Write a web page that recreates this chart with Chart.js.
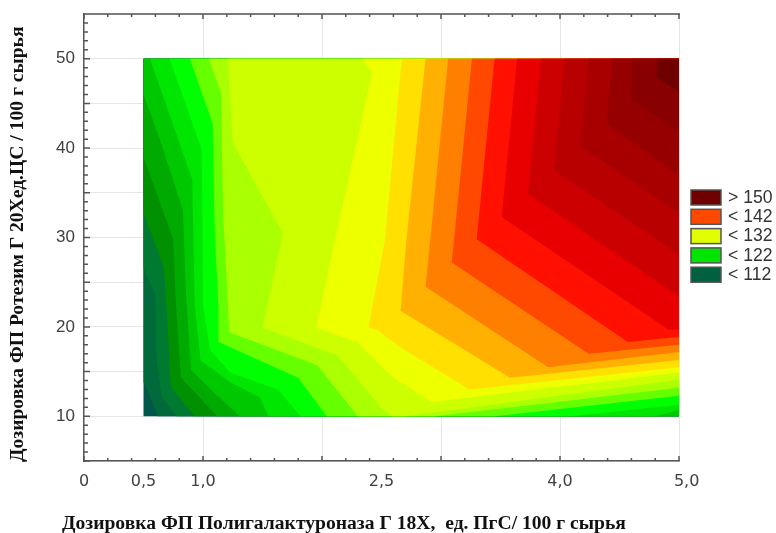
<!DOCTYPE html>
<html>
<head>
<meta charset="utf-8">
<style>
  html, body { margin: 0; padding: 0; background: #fff; }
  canvas { display: block; }
</style>
</head>
<body>
<canvas id="contourChart" width="776" height="533"></canvas>
<script src="https://cdn.jsdelivr.net/npm/chart.js@4/dist/chart.umd.min.js"></script>
<script>
// --------------------------------------------------- DATA
const xTicks = [0, 0.5, 1, 2, 2.5, 3, 4, 5]
const xTickLabels = ['0', '0,5', '1,0', '', '2,5', '', '4,0', '   5,0']
const xGridLines = [1, 2, 3, 4, 5]
const yTickLabels = [10, 20, 30, 40, 50]

const xTitle = 'Дозировка ФП Полигалактуроназа Г 18Х,  ед. ПгС/ 100 г сырья'
const yTitle = 'Дозировка ФП Ротезим Г 20Хед.ЦС / 100 г сырья'

const legendLabels = ['> 150', '< 142', '< 132', '< 122', '< 112']
const legendColors = ['#700000', '#ff4800', '#e0ff00', '#00e600', '#006040']

// band colours, lowest band first
const bandColors = [
  '#00584a', '#006a3a', '#007a30', '#009000', '#00aa00', '#00c800', '#00e600', '#00ff00',
  '#66ff00', '#aaff00', '#ccff00', '#eeff00', '#ffe000', '#ffb000', '#ff8000', '#ff4800',
  '#ff1000', '#e80000', '#cc0000', '#b80000', '#a80000', '#960000', '#880000', '#700000'
]

// contour regions: [dose x, dose y], everything above each level
const base = [[0.5, 50], [0.5, 10], [5, 10], [5, 50]]
const level0 = [[0.5, 50], [0.5, 13.8], [0.56, 12.2], [0.62, 10], [5, 10], [5, 50]]
const level1 = [[0.5, 50], [0.5, 26.6], [0.6, 23.6], [0.61, 16.3], [0.655, 12.1], [0.78, 10], [5, 10], [5, 50]]
const level2 = [[0.5, 50], [0.5, 32.8], [0.67, 26.7], [0.69, 23], [0.73, 13.3], [0.93, 10], [5, 10], [5, 50]]
const level3 = [[0.5, 50], [0.5, 39], [0.75, 29.8], [0.77, 23], [0.815, 14.3], [1.12, 10], [5, 10], [5, 50]]
const level4 = [[0.5, 50], [0.5, 46], [0.64, 40.9], [0.83, 33.1], [0.86, 23], [0.9, 15.2], [1.08, 12.8], [1.31, 10], [5, 10], [5, 50]]
const level5 = [[0.555, 50], [0.91, 36.5], [0.93, 22.5], [0.98, 16.2], [1.23, 13.8], [1.48, 12.1], [1.55, 10], [4.8, 10], [5, 10.7], [5, 50]]
const level6 = [[0.72, 50], [0.99, 39.8], [1, 22.5], [1.06, 17.4], [1.23, 14.9], [1.63, 13], [1.82, 10], [4.08, 10], [5, 11.3], [5, 50]]
const level7 = [[0.89, 50], [1.08, 42.8], [1.1, 29.8], [1.13, 22.5], [1.13, 18.3], [1.8, 14.3], [2.04, 10], [3.45, 10], [5, 12.3], [5, 50]]
const level8 = [[1.05, 50], [1.15, 46.2], [1.17, 32.3], [1.21, 22.5], [1.22, 19.4], [1.96, 15.7], [2.3, 10], [2.95, 10], [5, 13.2], [5, 50]]
const level9 = [[1.21, 50], [1.25, 40.6], [1.67, 30.5], [1.5, 19.9], [2.13, 16.8], [2.5, 10.9], [2.59, 10], [2.7, 10], [5, 14.1], [5, 50]]
const level10 = [[2.34, 50], [2.42, 48.4], [2.11, 29.8], [1.95, 19.9], [2.29, 18.3], [2.6, 14.3], [2.92, 11.6], [5, 14.9], [5, 50]]
const level11 = [[2.67, 50], [2.53, 29.8], [2.39, 19.9], [2.46, 19.7], [2.66, 17.7], [3.24, 13], [5, 15.5], [5, 50]]
const level12 = [[2.87, 50], [2.71, 29.8], [2.66, 21.8], [3.58, 14.3], [5, 16.3], [5, 50]]
const level13 = [[3.06, 50], [2.91, 29.8], [2.87, 24.5], [3.9, 15.5], [5, 17.2], [5, 50]]
const level14 = [[3.26, 50], [3.11, 29.8], [3.09, 27.2], [4.24, 17], [5, 18], [5, 50]]
const level15 = [[3.45, 50], [3.3, 29.8], [4.57, 18.3], [5, 18.9], [5, 50]]
const level16 = [[3.64, 50], [3.51, 32.3], [4.91, 19.7], [5, 19.7], [5, 50]]
const level17 = [[3.84, 50], [3.73, 34.9], [5, 23.4], [5, 50]]
const level18 = [[4.04, 50], [3.95, 37.5], [5, 28.1], [5, 50]]
const level19 = [[4.24, 50], [4.17, 40.2], [5, 32.7], [5, 50]]
const level20 = [[4.44, 50], [4.39, 42.7], [5, 37], [5, 50]]
const level21 = [[4.61, 50], [4.6, 45.4], [5, 41.8], [5, 50]]
const level22 = [[4.82, 50], [4.81, 47.9], [5, 46.3], [5, 50]]

const regions = [base, level0, level1, level2, level3, level4, level5, level6, level7, level8, level9, level10,
  level11, level12, level13, level14, level15, level16, level17, level18, level19, level20, level21, level22]

// --------------------------------------------------- PLUGINS
const frameColor = '#555555'

// inward tick marks and the top edge of the frame
const frameTicks = {
  id: 'frameTicks',
  afterDraw(chart) {
    const { ctx, chartArea, scales } = chart
    ctx.save()
    ctx.strokeStyle = frameColor
    ctx.lineWidth = 1.5
    ctx.beginPath()
    ctx.moveTo(chartArea.left, chartArea.top)
    ctx.lineTo(chartArea.right + 1, chartArea.top)
    for (let i = 0; i <= 25; i++) {
      const px = scales.x.getPixelForValue(i * 0.2)
      const len = i % 5 === 0 ? 5 : 3
      ctx.moveTo(px, chartArea.bottom)
      ctx.lineTo(px, chartArea.bottom - len)
      ctx.moveTo(px, chartArea.top)
      ctx.lineTo(px, chartArea.top + len)
    }
    for (let v = 5; v <= 55; v++) {
      const py = scales.y.getPixelForValue(v)
      ctx.moveTo(chartArea.left, py)
      ctx.lineTo(chartArea.left + (v % 5 === 0 ? 6 : 4), py)
    }
    ctx.stroke()
    ctx.restore()
  }
}

// axis titles sit off-centre in the original, so they are placed here
const axisTitles = {
  id: 'axisTitles',
  afterDraw(chart) {
    const { ctx } = chart
    ctx.save()
    ctx.fillStyle = '#111'
    ctx.font = 'bold 19.6px "Liberation Serif"'
    ctx.textAlign = 'left'
    ctx.textBaseline = 'middle'
    ctx.fillText(xTitle, 62, 524)
    ctx.translate(18, 462)
    ctx.rotate(-Math.PI / 2)
    ctx.fillText(yTitle, 0, 0)
    ctx.restore()
  }
}

const boxLegend = {
  id: 'boxLegend',
  afterDraw(chart) {
    const { ctx } = chart
    ctx.save()
    ctx.font = '17.6px "Liberation Sans"'
    ctx.textBaseline = 'middle'
    legendLabels.forEach((label, i) => {
      const top = 190 + i * 19.3
      ctx.fillStyle = legendColors[i]
      ctx.fillRect(691, top, 30, 15)
      ctx.strokeStyle = frameColor
      ctx.lineWidth = 1.5
      ctx.strokeRect(691, top, 30, 15)
      ctx.fillStyle = '#333'
      ctx.fillText(label, 728, top + 8)
    })
    ctx.restore()
  }
}

// --------------------------------------------------- CHART
const datasets = regions.map((region, i) => ({
  label: 'band ' + i,
  data: region.map(p => ({ x: p[0], y: p[1] })),
  showLine: true,
  fill: 'shape',
  tension: 0,
  pointRadius: 0,
  borderWidth: 0,
  backgroundColor: bandColors[i],
  order: regions.length - i
}))

new Chart(document.getElementById('contourChart'), {
  type: 'scatter',
  data: { datasets: datasets },
  plugins: [frameTicks, axisTitles, boxLegend],
  options: {
    responsive: false,
    animation: false,
    layout: { padding: { top: 14, right: 97 } },
    plugins: { legend: { display: false }, tooltip: { enabled: false } },
    scales: {
      x: {
        type: 'linear',
        min: 0,
        max: 5,
        afterBuildTicks: scale => { scale.ticks = xTicks.map(v => ({ value: v })) },
        afterFit: scale => {
          scale.height = 72
          scale.paddingLeft = 0
          scale.paddingRight = 0
        },
        border: { color: frameColor, width: 1.5 },
        grid: {
          drawTicks: false,
          color: ctx => xGridLines.includes(ctx.tick && ctx.tick.value) ? '#e6e6e6' : 'rgba(0,0,0,0)'
        },
        ticks: {
          autoSkip: false,
          maxRotation: 0,
          padding: 11,
          color: '#404040',
          font: { family: 'DejaVu Sans', size: 16 },
          callback: value => xTickLabels[xTicks.indexOf(value)]
        }
      },
      y: {
        type: 'linear',
        min: 5,
        max: 55,
        afterFit: scale => {
          scale.width = 84
          scale.paddingTop = 0
          scale.paddingBottom = 0
        },
        border: { color: frameColor, width: 1.5 },
        grid: { drawTicks: false, color: '#e6e6e6' },
        ticks: {
          stepSize: 5,
          padding: 9,
          color: '#404040',
          font: { family: 'Liberation Sans', size: 17 },
          callback: value => yTickLabels.includes(value) ? String(value) : ''
        }
      }
    }
  }
})
</script>
</body>
</html>
